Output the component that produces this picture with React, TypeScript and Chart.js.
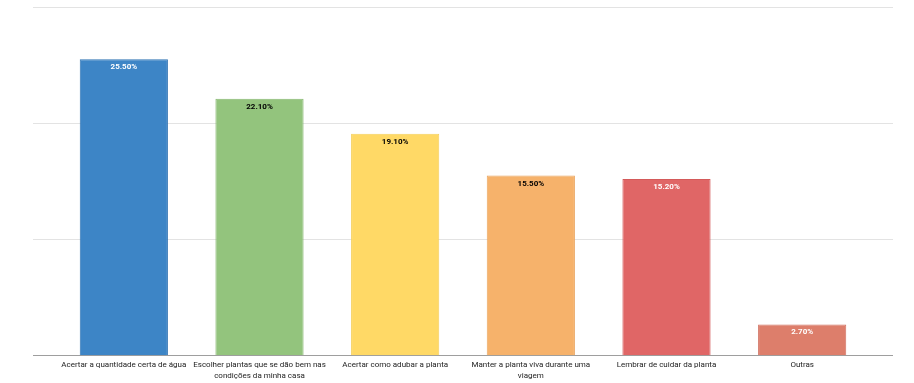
import React, { useEffect, useRef } from "react";
import { Chart, registerables } from "chart.js";

Chart.register(...registerables);

const categories: (string | string[])[] = [
  "Acertar a quantidade certa de água",
  ["Escolher plantas que se dão bem nas", "condições da minha casa"],
  "Acertar como adubar a planta",
  ["Manter a planta viva durante uma", "viagem"],
  "Lembrar de cuidar da planta",
  "Outras",
];
const values = [25.5, 22.1, 19.1, 15.5, 15.2, 2.7];
const barColors = ["#3d85c6", "#93c47d", "#ffd966", "#f6b26b", "#e06666", "#dd7e6b"];
const borderColors = ["#2f73b3", "#86b86f", "#f5cf5c", "#eaa55e", "#d45a5a", "#d17262"];
const labelColors = ["#ffffff", "#000000", "#000000", "#000000", "#ffffff", "#ffffff"];
const yTicks = [0, 10, 20, 30];

const FONT = "Roboto, 'Liberation Sans', Arial, sans-serif";

const valueLabels = {
  id: "valueLabels",
  afterDatasetsDraw(chart: any) {
    const ctx = chart.ctx;
    const meta = chart.getDatasetMeta(0);
    ctx.save();
    ctx.font = `bold 8px ${FONT}`;
    ctx.textAlign = "center";
    ctx.textBaseline = "middle";
    meta.data.forEach((bar: any, i: number) => {
      ctx.fillStyle = labelColors[i];
      ctx.fillText(values[i].toFixed(2) + "%", bar.x, bar.y + 8);
    });
    ctx.restore();
  },
};

export default function App() {
  const ref = useRef<HTMLCanvasElement>(null);
  useEffect(() => {
    if (!ref.current) return;
    const gridColor = (c: any) =>
      c.tick && c.tick.value === 0 ? "#9e9e9e" : "#e3e3e3";
    const yCommon = {
      min: yTicks[0],
      max: yTicks[yTicks.length - 1],
      afterBuildTicks: (axis: any) => {
        axis.ticks = yTicks.map((v) => ({ value: v }));
      },
      ticks: { display: false },
      border: { display: false },
      grid: {
        color: gridColor,
        tickColor: gridColor,
        drawTicks: true,
        tickLength: 23,
        lineWidth: 1,
      },
    };
    const chart = new Chart(ref.current, {
      type: "bar",
      data: {
        labels: categories,
        datasets: [
          {
            data: values,
            backgroundColor: barColors,
            borderColor: borderColors,
            borderWidth: 1,
            barPercentage: 0.65,
            categoryPercentage: 1,
            yAxisID: "y",
          },
        ],
      },
      options: {
        animation: false,
        responsive: false,
        maintainAspectRatio: false,
        layout: { padding: { left: 33, right: 21, top: 7, bottom: 1 } },
        plugins: {
          legend: { display: false },
          tooltip: { enabled: false },
        },
        scales: {
          x: {
            grid: { display: false, drawTicks: false },
            border: { display: false },
            ticks: {
              color: "#222222",
              font: { family: FONT, size: 8, lineHeight: 1.45 },
              padding: 3,
              maxRotation: 0,
              autoSkip: false,
            },
          },
          y: { ...yCommon, position: "left" },
          y2: { ...yCommon, position: "right" },
        },
      },
      plugins: [valueLabels],
    });
    return () => chart.destroy();
  }, []);
  return (
    <div style={{ position: "fixed", left: 0, top: 0, width: 914, height: 383, overflow: "hidden" }}>
      <canvas ref={ref} width={914} height={386} />
    </div>
  );
}
